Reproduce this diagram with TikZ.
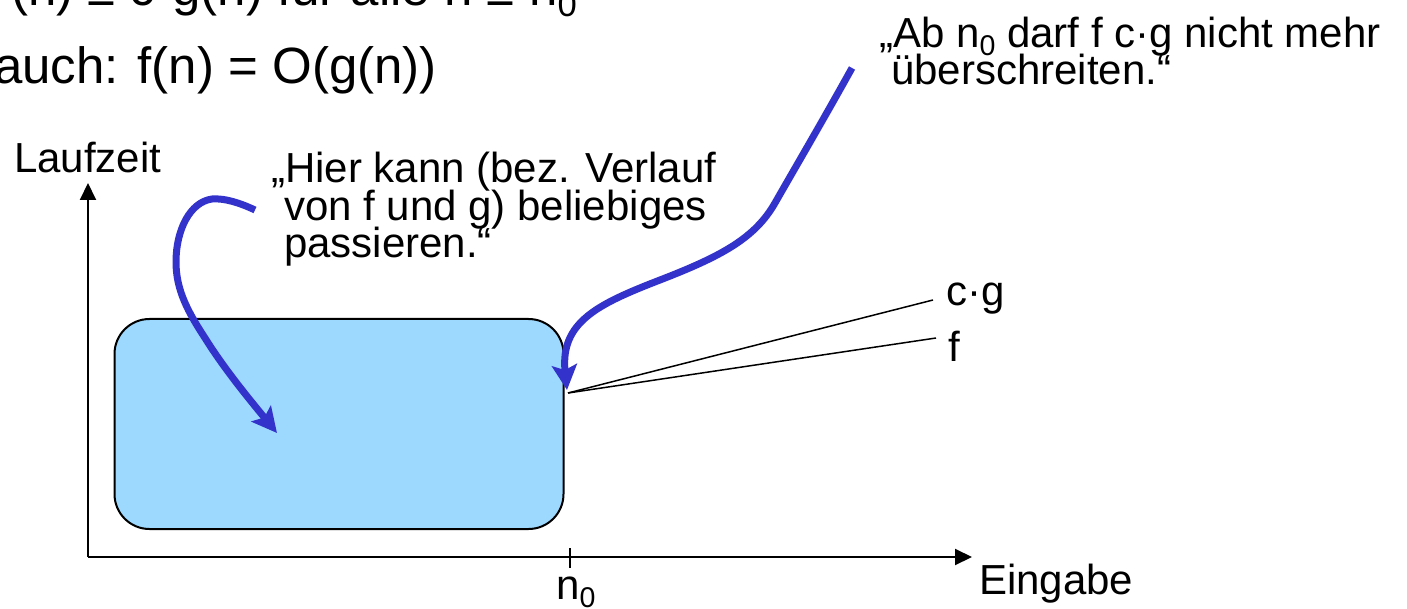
\documentclass[tikz,border=0pt]{standalone}
\usepackage{fontspec}
\usepackage{graphicx}
\setmainfont{Liberation Sans}
\usetikzlibrary{arrows.meta}
\definecolor{boxblue}{RGB}{157,217,255}
\definecolor{arrowblue}{RGB}{51,51,204}
\newcommand\subz[1]{\raisebox{-0.2em}{\scalebox{0.68}{#1}}}
\newcommand\lblfont{\fontsize{42}{37.5}\selectfont\lineskiplimit -100pt\relax}
\newcommand\hdrfont{\fontsize{51}{60}\selectfont}
\begin{document}
\begin{tikzpicture}[x=1pt,y=-1pt,
  lbl/.style={font=\lblfont, inner sep=0pt, anchor=base west},
  hdr/.style={font=\hdrfont, inner sep=0pt, anchor=base east},
  axis/.style={line width=2pt, -{Triangle[length=17pt,width=16pt]}},
  curvearrow/.style={draw=arrowblue, fill=none, line width=7pt, -{Stealth[length=25pt,width=25pt,inset=5pt,fill=arrowblue]}},
  graphline/.style={line width=1.5pt},
  region/.style={draw, line width=2pt, fill=boxblue, rounded corners=35pt, minimum width=449pt, minimum height=210pt, inner sep=0pt}]
\useasboundingbox (0,0) rectangle (1407,609);

% header (cut at the edges)
\node[hdr] (l1) at (577,6) {(n) ≤ c·g(n) für alle n ≥ n\subz{0}};
\node[hdr] (l2) at (437,84) {auch: f(n) = O(g(n))};

% region
\node[region] (box) at (339,424) {};

% axes
\coordinate (origin) at (88,557);
\coordinate (ytip) at (88,183);
\coordinate (xtip) at (972,557);
\draw[axis] (origin) -- (ytip);
\draw[axis] (origin) -- (xtip);
\coordinate (ticktop) at (570,548);
\coordinate (tickbot) at (570,568);
\draw[line width=1.5pt] (ticktop) -- (tickbot);

% labels
\node[lbl] (lauf) at (14,173) {Laufzeit};
\node[lbl] (ein) at (979,594) {Eingabe};
\node[lbl] (n0) at (556,599) {n\subz{0}};
\node[lbl] (cg) at (946,306) {c·g};
\node[lbl] (f) at (948,361) {f};
\node[lbl, align=left] (hier) at (271,258) {„Hier kann (bez. Verlauf\\\hspace*{13pt}von f und g) beliebiges\\\hspace*{13pt}passieren.“};
\node[lbl, align=left] (ab) at (879,85) {„Ab n\subz{0} darf f c·g nicht mehr\\\hspace*{12pt}überschreiten.“};

% f and c*g lines
\coordinate (fstart) at (568,393);
\coordinate (cgend) at (933,300);
\coordinate (fend) at (936,338);
\draw[graphline] (fstart) -- (cgend);
\draw[graphline] (fstart) -- (fend);

% blue arrows
\coordinate (a1s) at (255,210);
\coordinate (a1e) at (277,433);
\draw[curvearrow] (a1s) .. controls (240,203) and (225,198) .. (212,199)
  .. controls (190,202) and (176,230) .. (176,262)
  .. controls (176,290) and (188,312) .. (205,338)
  .. controls (225,370) and (250,400) .. (a1e);
\coordinate (a2s) at (852,68);
\coordinate (a2e) at (567,390);
\draw[curvearrow] (a2s) .. controls (822,122) and (795,168) .. (775,203)
  .. controls (755,238) and (722,256) .. (660,280)
  .. controls (598,304) and (560,322) .. (a2e);
\end{tikzpicture}
\end{document}
